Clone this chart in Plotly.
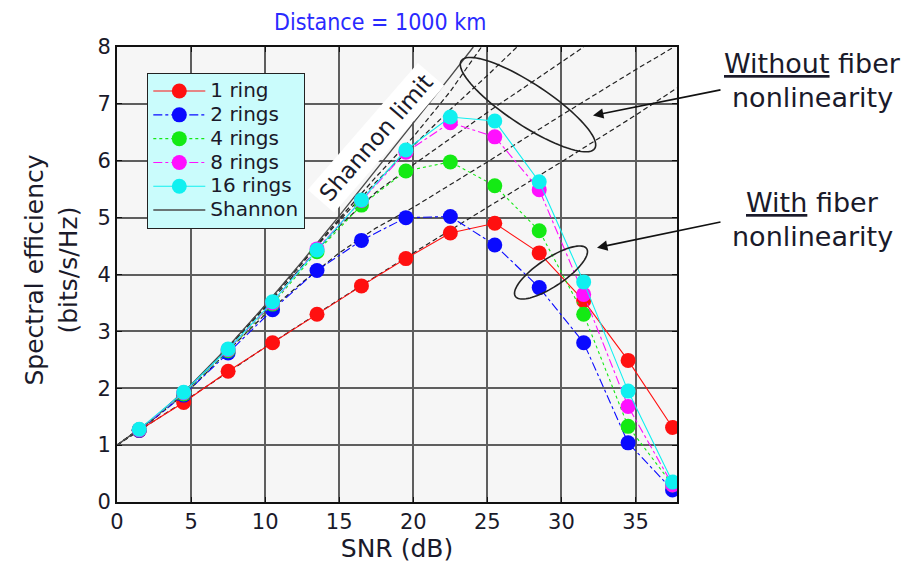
import numpy as np
import plotly.graph_objects as go

# ---------------- data ----------------
snr_db = [1.5, 4.5, 7.5, 10.5, 13.5, 16.5, 19.5, 22.5, 25.5, 28.5, 31.5, 34.5, 37.5]
se_1ring = [1.26, 1.75, 2.30, 2.80, 3.30, 3.80, 4.28, 4.73, 4.90, 4.38, 3.54, 2.49, 1.31]
se_2rings = [1.26, 1.88, 2.62, 3.38, 4.07, 4.60, 5.00, 5.02, 4.52, 3.77, 2.80, 1.04, 0.21]
se_4rings = [1.27, 1.90, 2.66, 3.48, 4.40, 5.22, 5.82, 5.98, 5.56, 4.77, 3.30, 1.33, 0.30]
se_8rings = [1.27, 1.92, 2.68, 3.50, 4.45, 5.30, 6.15, 6.67, 6.42, 5.49, 3.65, 1.68, 0.30]
se_16rings = [1.28, 1.93, 2.69, 3.52, 4.43, 5.31, 6.19, 6.77, 6.70, 5.63, 3.87, 1.95, 0.35]

shannon_x = [0, 2.5, 5, 7.5, 10, 12.5, 15, 17.5, 20, 22.5, 24.05]
shannon_y = [1, 1.47, 2.06, 2.73, 3.46, 4.23, 5.03, 5.84, 6.66, 7.48, 8.0]

# dashed "without fiber nonlinearity" curves
lin1_x = [0, 2.5, 5, 10, 15, 20, 25, 30, 35, 37.8]
lin1_y = [1, 1.42, 1.85, 2.72, 3.56, 4.38, 5.18, 5.98, 6.80, 7.28]
lin2_x = [0, 2.5, 5, 7.5, 10, 12.5, 15, 17.5, 20, 25, 30, 35, 37.6]
lin2_y = [1, 1.46, 2.00, 2.66, 3.30, 3.86, 4.38, 4.82, 5.18, 5.98, 6.80, 7.60, 8.0]
lin4_x = [0, 2.5, 5, 7.5, 10, 12.5, 15, 17.5, 20, 25, 31.5]
lin4_y = [1, 1.47, 2.04, 2.71, 3.42, 4.15, 4.85, 5.45, 5.93, 6.85, 8.0]
lin8_x = [0, 2.5, 5, 7.5, 10, 12.5, 15, 17.5, 20, 22.5, 25, 27]
lin8_y = [1, 1.47, 2.05, 2.72, 3.45, 4.20, 4.95, 5.63, 6.27, 6.90, 7.50, 8.0]
lin16_x = [0, 2.5, 5, 7.5, 10, 12.5, 15, 17.5, 20, 22.5, 24.6]
lin16_y = [1, 1.47, 2.05, 2.72, 3.45, 4.22, 4.98, 5.72, 6.42, 7.22, 8.0]

x_ticks = [0, 5, 10, 15, 20, 25, 30, 35]
y_ticks = [0, 1, 2, 3, 4, 5, 6, 7, 8]
x_range = [0, 37.8]
y_range = [0, 8]

# ---------------- layout geometry ----------------
OFF = 8                       # page body margin
W, H = 897, 560
ML, MT = 117 - OFF, 47 - OFF
MR = W - (677 - OFF)
MB = H - (505 - OFF)
PW, PH = W - ML - MR, H - MT - MB

def px2data(wx, wy):
    px, py = wx - OFF, wy - OFF
    x = x_range[0] + (px - ML) / PW * (x_range[1] - x_range[0])
    y = y_range[0] + (H - MB - py) / PH * (y_range[1] - y_range[0])
    return x, y

def paper(wx, wy):
    px, py = wx - OFF, wy - OFF
    return (px - ML) / PW, (H - MB - py) / PH

def ellipse_path(cx, cy, a, b, ang_deg, n=90):
    t = np.linspace(0, 2 * np.pi, n)
    th = np.deg2rad(ang_deg)
    ex = cx + a * np.cos(t) * np.cos(th) - b * np.sin(t) * np.sin(th)
    ey = cy + a * np.cos(t) * np.sin(th) + b * np.sin(t) * np.cos(th)
    pts = [px2data(u, v) for u, v in zip(ex, ey)]
    return "M " + " L ".join(f"{u:.4f},{v:.4f}" for u, v in pts) + " Z"

FONT = "DejaVu Sans, Verdana, sans-serif"
TXT = "#1a1a2a"

fig = go.Figure()

for lx, ly in [(lin1_x, lin1_y), (lin2_x, lin2_y), (lin4_x, lin4_y),
               (lin8_x, lin8_y), (lin16_x, lin16_y)]:
    fig.add_trace(go.Scatter(x=lx, y=ly, mode="lines", showlegend=False,
                             hoverinfo="skip",
                             line=dict(color="#222222", width=1.2, dash="5px,3px")))

fig.add_trace(go.Scatter(x=shannon_x, y=shannon_y, mode="lines",
                         name="<span style='font-size:20px'>Shannon</span>",
                         legendrank=1006,
                         line=dict(color="#4a4a4a", width=1.4)))

series = [
    ("1 ring", se_1ring, "#ff1010", "solid"),
    ("2 rings", se_2rings, "#0a0aff", "dashdot"),
    ("4 rings", se_4rings, "#14ea14", "dot"),
    ("8 rings", se_8rings, "#ff10ff", "dashdot"),
    ("16 rings", se_16rings, "#10f0f0", "solid"),
]
for i, (nm, ys, col, dsh) in enumerate(series):
    fig.add_trace(go.Scatter(
        x=snr_db, y=ys, mode="lines+markers",
        name=f"<span style='font-size:20px'>{nm}</span>",
        legendrank=1000 + i,
        line=dict(color=col, width=1.1, dash=dsh),
        marker=dict(color=col, size=15, line=dict(width=0)),
    ))

# ellipses
shapes = [
    dict(type="path", path=ellipse_path(528, 105, 80, 21, 33.5),
         line=dict(color="#222222", width=1.6), xref="x", yref="y"),
    dict(type="path", path=ellipse_path(551, 274, 43, 14, -34),
         line=dict(color="#222222", width=1.6), xref="x", yref="y"),
]

ann = []
# title (anchored at the very top of the figure)
tx, ty = paper(380, OFF)
ann.append(dict(x=tx, y=ty, xref="paper", yref="paper", text="Distance = 1000 km",
                xanchor="center", yanchor="top", showarrow=False, borderpad=0,
                font=dict(family="DejaVu Sans Condensed, DejaVu Sans, sans-serif",
                          size=23, color="#2a2aff")))
# y title (two lines)
for txt, wx in [("Spectral efficiency", 35), ("(bits/s/Hz)", 69)]:
    ax_, ay_ = paper(wx, 272)
    ann.append(dict(x=ax_, y=ay_, xref="paper", yref="paper", text=txt,
                    xanchor="center", yanchor="middle",
                    textangle=-90, showarrow=False, font=dict(family=FONT, size=25, color=TXT)))
# right side labels
for txt, wy in [("<u>Without</u> fiber", 64), ("nonlinearity", 98),
                ("<u>With</u> fiber", 204), ("nonlinearity", 238)]:
    ax_, ay_ = paper(812, wy)
    ann.append(dict(x=ax_, y=ay_, xref="paper", yref="paper", text=txt,
                    xanchor="center", yanchor="middle",
                    showarrow=False, font=dict(family=FONT, size=27, color=TXT)))
# arrows
for hx, hy, tx_, ty_ in [(593, 116, 722, 90), (597, 249, 722, 223)]:
    dx, dy = px2data(hx, hy)
    ann.append(dict(x=dx, y=dy, xref="x", yref="y", text="", showarrow=True,
                    ax=tx_ - hx, ay=ty_ - hy, arrowhead=2, arrowsize=1.3,
                    arrowwidth=1.6, arrowcolor="#111111"))
# Shannon limit label
sx, sy = px2data(376, 139)
ann.append(dict(x=sx, y=sy, xref="x", yref="y", text="Shannon limit", textangle=-49,
                xanchor="center", yanchor="middle",
                showarrow=False, bgcolor="white", borderpad=4,
                font=dict(family=FONT, size=23, color=TXT)))

axis_common = dict(showline=True, linecolor="#111111", linewidth=2, mirror="ticks",
                   ticks="inside", ticklen=5, tickcolor="#111111",
                   showgrid=True, gridcolor="#5e5e5e", gridwidth=1.5,
                   zeroline=False, tickfont=dict(family=FONT, size=21, color=TXT))

lx0, ly0 = paper(147, 73)
fig.update_layout(
    width=W, height=H,
    margin=dict(l=ML, r=MR, t=MT, b=MB),
    paper_bgcolor="white", plot_bgcolor="#f6f6f6",
    xaxis=dict(range=x_range, tickvals=x_ticks, **axis_common,
               title=dict(text="SNR (dB)", font=dict(family=FONT, size=25, color=TXT), standoff=4)),
    yaxis=dict(range=y_range, tickvals=y_ticks, **axis_common),
    legend=dict(x=lx0, y=ly0, xanchor="left", yanchor="top",
                bgcolor="#cafcfc", bordercolor="#222222", borderwidth=1.3,
                font=dict(family=FONT, size=16, color=TXT), itemwidth=52,
                tracegroupgap=0),
    shapes=shapes, annotations=ann, showlegend=True,
)

fig.write_html("out.html")
